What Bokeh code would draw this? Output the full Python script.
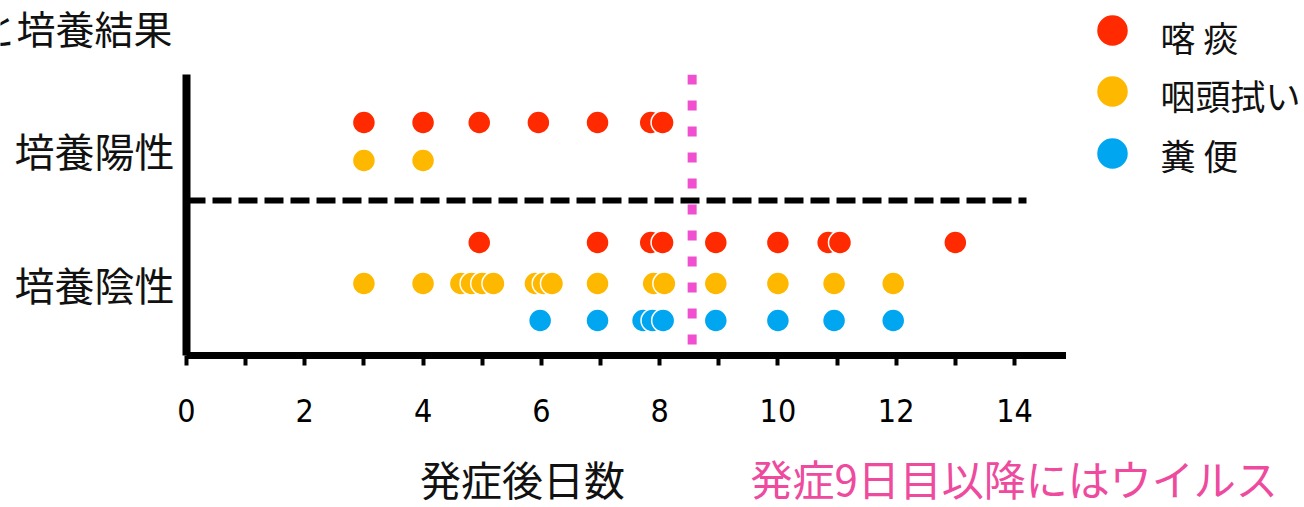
from bokeh.plotting import figure
from bokeh.models import ColumnDataSource, FixedTicker, Span
from bokeh.layouts import column, row
from bokeh.core.properties import value
from bokeh.embed import file_html
from bokeh.resources import INLINE

# ---------------- data (days after onset) ----------------
specimens = ["喀 痰", "咽頭拭い", "糞 便"]
groups = ["培養陽性", "培養陰性"]

sputum_pos = [3, 4, 4.95, 5.95, 6.95, 7.85, 8.05]
throat_pos = [3, 4]
stool_pos = []

sputum_neg = [4.95, 6.95, 7.85, 8.05, 8.95, 10.0, 10.85, 11.05, 13.0]
throat_neg = [3, 4, 4.64, 4.82, 5.0, 5.19, 5.9, 6.04, 6.18, 6.95, 7.9, 8.08,
              8.95, 10.0, 10.95, 11.95]
stool_neg = [5.98, 6.95, 7.72, 7.88, 8.06, 8.95, 10.0, 10.95, 11.95]

x_ticks = [0, 2, 4, 6, 8, 10, 12, 14]
x_minor = [1, 3, 5, 7, 9, 11, 13, 15]
cutoff_day = 8.55

title_text = "と培養結果"
xlabel_text = "発症後日数"
note_text = "発症9日目以降にはウイルス"

# ---------------- layout / style ----------------
JP = "Noto Sans CJK JP"
NUM = "'Liberation Sans Narrow', 'Arial Narrow', 'DejaVu Sans Condensed', sans-serif"
colors = ["#ff2a00", "#ffb800", "#00a6f0"]
INK = "#111111"

TOTAL_W, TOTAL_H = 1304, 507
MAIN_W = 1066          # width of title + chart column
TITLE_H = 74           # height of title strip (frame top of chart)
MAIN_H = 366           # chart figure height
BOTTOM_H = TOTAL_H - TITLE_H - MAIN_H
LEG_W = TOTAL_W - MAIN_W
LEFT = 186
FRAME_H = 281
XEND = 14.88

# y in "pixel-like" units: 0 at x axis, up positive
row_y = {"pos": [233, 195, 157], "neg": [113, 72, 35]}
group_y = {"培養陽性": 206, "培養陰性": 72}
divider_y = 155
sx = (MAIN_W - LEFT) / XEND


def blank(w, h):
    f = figure(width=w, height=h, x_range=(0, w), y_range=(h, 0),
               x_axis_location=None, y_axis_location=None,
               min_border=0, output_backend="svg", toolbar_location=None)
    f.outline_line_color = None
    f.grid.visible = False
    f.background_fill_color = "white"
    f.border_fill_color = "white"
    return f


# ---------------- title strip ----------------
pt = blank(MAIN_W, TITLE_H)
pt.text(x=[172], y=[26], text=[title_text], text_font=value(JP),
        text_font_size="39px", text_align="right", text_baseline="middle",
        text_color=INK)

# ---------------- main chart ----------------
p = figure(width=MAIN_W, height=MAIN_H, output_backend="svg", toolbar_location=None,
           x_range=(0, XEND), y_range=(0, FRAME_H),
           min_border_left=LEFT, min_border_right=0,
           min_border_top=0, min_border_bottom=MAIN_H - FRAME_H)
p.outline_line_color = None
p.xgrid.visible = False
p.ygrid.visible = False
p.background_fill_color = "white"
p.border_fill_color = "white"

xa = p.xaxis[0]
xa.ticker = FixedTicker(ticks=x_ticks, minor_ticks=x_minor)
xa.axis_line_width = 7
xa.axis_line_color = "black"
xa.major_tick_line_width = 4
xa.major_tick_line_color = "black"
xa.major_tick_out = 10
xa.major_tick_in = 0
xa.minor_tick_line_width = 4
xa.minor_tick_line_color = "black"
xa.minor_tick_out = 10
xa.minor_tick_in = 0
xa.major_label_text_font = NUM
xa.major_label_text_font_size = "32px"
xa.major_label_text_color = "black"
xa.major_label_standoff = 33

ya = p.yaxis[0]
ya.ticker = FixedTicker(ticks=[group_y[g] for g in groups], minor_ticks=[])
ya.major_label_overrides = {group_y[g]: g for g in groups}
ya.axis_line_width = 8
ya.axis_line_color = "black"
ya.major_tick_line_color = None
ya.minor_tick_line_color = None
ya.major_label_text_font = JP
ya.major_label_text_font_size = "40px"
ya.major_label_text_color = INK
ya.major_label_standoff = 6
ya.major_label_orientation = "horizontal"

# divider between positive / negative
p.line(x=[0, (1026 - LEFT) / sx], y=[divider_y, divider_y], line_color="black",
       line_width=6, line_dash="19 7")

# cutoff line
p.add_layout(Span(location=cutoff_day, dimension="height", line_color="#f050d0",
                  line_width=9, line_dash="10 16"))

pos_lists = [sputum_pos, throat_pos, stool_pos]
neg_lists = [sputum_neg, throat_neg, stool_neg]
for i, name in enumerate(specimens):
    xs = list(pos_lists[i]) + list(neg_lists[i])
    ys = [row_y["pos"][i]] * len(pos_lists[i]) + [row_y["neg"][i]] * len(neg_lists[i])
    src = ColumnDataSource(dict(x=xs, y=ys))
    p.scatter("x", "y", source=src, size=23, fill_color=colors[i],
              line_color="white", line_width=1.5)

# ---------------- legend column ----------------
pl = blank(LEG_W, TITLE_H + MAIN_H)
leg_src = ColumnDataSource(dict(
    x=[46] * len(specimens), y=[30, 91, 153][:len(specimens)],
    tx=[94] * len(specimens), ty=[36, 94, 154][:len(specimens)],
    label=specimens, color=colors))
pl.scatter("x", "y", source=leg_src, size=32, fill_color="color",
           line_color="white", line_width=1.5)
pl.text("tx", "ty", text="label", source=leg_src, text_font=value(JP),
        text_font_size="35px", text_align="left", text_baseline="middle",
        text_color=INK)

# ---------------- bottom strip ----------------
pb = blank(TOTAL_W, BOTTOM_H)
pb.text(x=[522], y=[37], text=[xlabel_text], text_font=value(JP),
        text_font_size="41px", text_align="center", text_baseline="middle",
        text_color=INK)
pb.text(x=[750], y=[37], text=[note_text], text_font=value(JP),
        text_font_size="42px", text_align="left", text_baseline="middle",
        text_color="#ee4a9e")

layout = column(row(column(row(pt), row(p)), pl), pb)
open("out.html", "w").write(file_html(layout, INLINE))
